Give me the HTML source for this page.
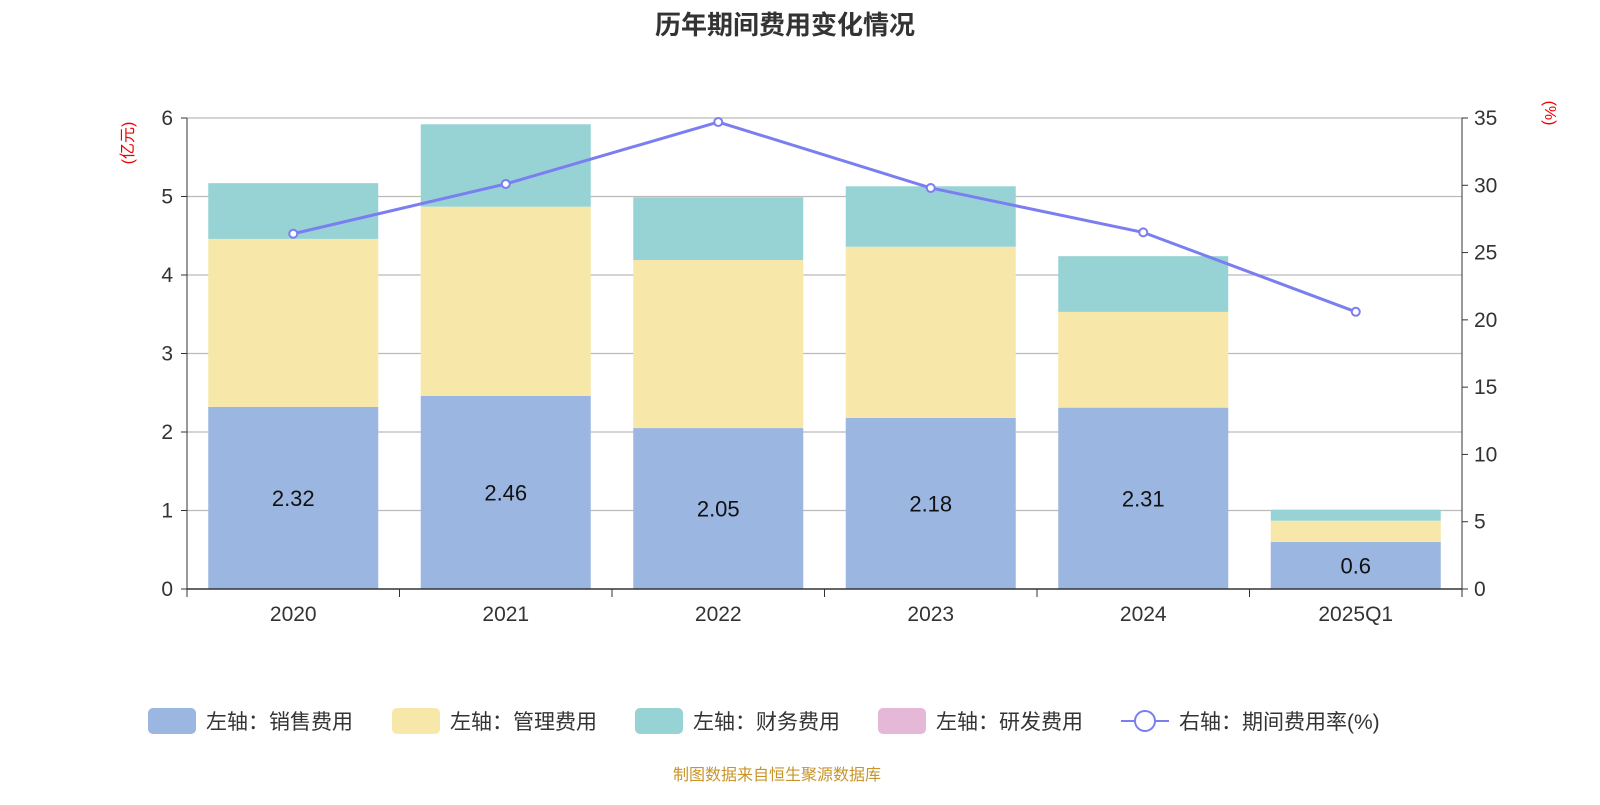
<!DOCTYPE html>
<html><head><meta charset="utf-8"><style>
body{margin:0;background:#fff;width:1600px;height:800px;overflow:hidden;font-family:"Liberation Sans","Noto Sans CJK SC",sans-serif}
</style></head><body>
<svg id="chart" width="1600" height="800" xmlns="http://www.w3.org/2000/svg" font-family="Liberation Sans, Noto Sans CJK SC, sans-serif">
<text x="785" y="34" text-anchor="middle" font-size="26" font-weight="bold" fill="#333">历年期间费用变化情况</text>
<text transform="translate(133,143) rotate(-90)" text-anchor="middle" font-size="16" fill="#e00">(亿元)</text>
<text transform="translate(1545,113) rotate(90)" text-anchor="middle" font-size="16" fill="#e00">(%)</text>
<g id="grid"></g><g id="bars"></g><g id="line"></g><g id="axes"></g>
<g font-size="21" fill="#333">
<g><rect x="148" y="708" width="48" height="26" rx="5" fill="#9bb6e0"/><text x="206" y="729">左轴：销售费用</text></g>
<g><rect x="392" y="708" width="48" height="26" rx="5" fill="#f7e7a8"/><text x="450" y="729">左轴：管理费用</text></g>
<g><rect x="635" y="708" width="48" height="26" rx="5" fill="#97d3d4"/><text x="693" y="729">左轴：财务费用</text></g>
<g><rect x="878" y="708" width="48" height="26" rx="5" fill="#e5b8d8"/><text x="936" y="729">左轴：研发费用</text></g>
<g><line x1="1121" y1="721" x2="1169" y2="721" stroke="#7b7ef0" stroke-width="2"/><circle cx="1145" cy="721" r="10" fill="#fff" stroke="#7b7ef0" stroke-width="2"/><text x="1179" y="729">右轴：期间费用率(%)</text></g>
</g>
<text x="777" y="780" text-anchor="middle" font-size="16" fill="#c8952a">制图数据来自恒生聚源数据库</text>
</svg>
<script>
const categories=["2020","2021","2022","2023","2024","2025Q1"];
const sales=[2.32,2.46,2.05,2.18,2.31,0.6];
const management=[2.14,2.41,2.14,2.18,1.22,0.27];
const finance=[0.71,1.05,0.80,0.77,0.71,0.14];
const rnd=[0,0,0,0,0,0];
const rate=[26.4,30.1,34.7,29.8,26.5,20.6];
const leftTicks=[0,1,2,3,4,5,6];
const rightTicks=[0,5,10,15,20,25,30,35];
const NS="http://www.w3.org/2000/svg";
const L=187,R=1462,B=589,T=118;
const band=(R-L)/categories.length;
const xC=i=>L+band*(i+0.5);
const yL=v=>B-(B-T)*v/6;
const yR=v=>B-(B-T)*v/35;
function mk(tag,attrs,parent){const e=document.createElementNS(NS,tag);for(const k in attrs)e.setAttribute(k,attrs[k]);document.getElementById(parent).appendChild(e);return e;}
leftTicks.forEach(v=>{
 if(v>0){const g=mk('line',{x1:L,x2:R,y1:yL(v),y2:yL(v),stroke:'#bbb','stroke-width':1.3},'grid');
 
 }
 const t=mk('text',{x:L-14,y:yL(v)+7,'text-anchor':'end','font-size':21,fill:'#333'},'axes');t.textContent=v;
 
 
 mk('line',{x1:L-6,x2:L,y1:yL(v),y2:yL(v),stroke:'#333'},'axes');
});
rightTicks.forEach(v=>{
 const t=mk('text',{x:R+12,y:yR(v)+7,'font-size':21,fill:'#333'},'axes');t.textContent=v;
 
 
 mk('line',{x1:R,x2:R+6,y1:yR(v),y2:yR(v),stroke:'#333'},'axes');
});
mk('line',{x1:L,x2:L,y1:T,y2:B,stroke:'#333'},'axes');
mk('line',{x1:R,x2:R,y1:T,y2:B,stroke:'#333'},'axes');
mk('line',{x1:L,x2:R,y1:B,y2:B,stroke:'#333','stroke-width':1.5},'axes');
for(let i=0;i<=categories.length;i++)mk('line',{x1:L+band*i,x2:L+band*i,y1:B,y2:B+8,stroke:'#333'},'axes');
const bw=170;
const series=[[sales,'#9bb6e0','sales'],[management,'#f7e7a8','management'],[finance,'#97d3d4','finance'],[rnd,'#e5b8d8','rnd']];
categories.forEach((c,i)=>{
 let base=0;
 series.forEach(([arr,col,nm])=>{
  const v=arr[i];if(v<=0)return;
  const r=mk('rect',{x:xC(i)-bw/2,y:yL(base+v),width:bw,height:yL(base)-yL(base+v),fill:col},'bars');
  
  
  base+=v;
 });
 const lb=mk('text',{x:xC(i),y:(yL(0)+yL(sales[i]))/2+8,'text-anchor':'middle','font-size':22,fill:'#111'},'bars');lb.textContent=sales[i];
 
 
 const xl=mk('text',{x:xC(i),y:B+32,'text-anchor':'middle','font-size':21,fill:'#333'},'axes');xl.textContent=c;
 
 
});
const pl=mk('polyline',{points:rate.map((v,i)=>xC(i)+','+yR(v)).join(' '),fill:'none',stroke:'#7b7ef0','stroke-width':3},'line');


rate.forEach((v,i)=>{const p=mk('circle',{cx:xC(i),cy:yR(v),r:4,fill:'#fff',stroke:'#7b7ef0','stroke-width':2},'line');
 
 });
</script>
</body></html>
